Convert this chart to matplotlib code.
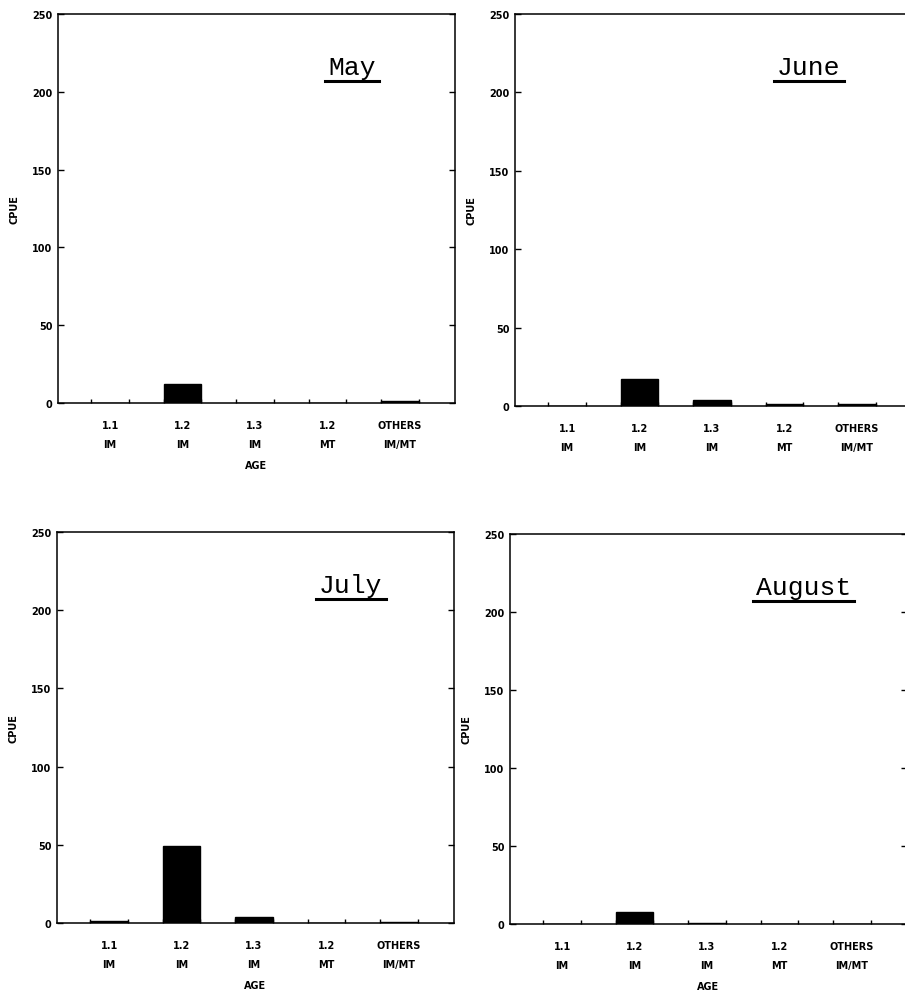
import matplotlib
matplotlib.use("Agg")
import matplotlib.pyplot as plt
from matplotlib.lines import Line2D
from matplotlib.transforms import IdentityTransform

# categories (age / maturity) and monthly CPUE values
AGES = ["1.1\nIM", "1.2\nIM", "1.3\nIM", "1.2\nMT", "OTHERS\nIM/MT"]
MONTHS = ["May", "June", "July", "August"]
MAY = [0, 12.5, 0, 0, 1.2]
JUNE = [0, 17, 4, 1, 1]
JULY = [1, 49, 4, 0, 0.7]
AUGUST = [0, 8, 0.8, 0, 0]
YTICKS = [0, 50, 100, 150, 200, 250]

W, H = 905, 995
PANEL_W = 397
BAR_W = 0.52

fig = plt.figure(figsize=(W / 100, H / 100), dpi=100)

# pixel boxes: left edge, top (250 line), bottom (0 line)
boxes = [(58, 15, 404), (515, 15, 407), (57, 533, 924), (510, 535, 925)]
show_age = [True, False, True, True]
tick_font = dict(family="DejaVu Sans", weight="bold", size=7)

titles = []
for month, vals, (left, top, bottom), age in zip(
        MONTHS, [MAY, JUNE, JULY, AUGUST], boxes, show_age):
    ax = fig.add_axes([left / W, 1 - bottom / H, PANEL_W / W, (bottom - top) / H])
    xs = list(range(len(AGES)))
    ax.bar(xs, vals, width=BAR_W, color="black", edgecolor="black", linewidth=1)
    ax.set_xlim(-0.72, 4.76)
    ax.set_ylim(0, 250)

    ax.set_yticks(YTICKS)
    ax.set_yticklabels([str(v) for v in YTICKS], **tick_font)
    ax.set_xticks(xs)
    ax.set_xticklabels(AGES, linespacing=2.2, **tick_font)
    edges = [x + s * BAR_W / 2 for x in xs for s in (-1, 1)]
    ax.set_xticks(edges, minor=True)
    ax.tick_params(axis="y", direction="in", length=4, width=1, right=True, pad=4)
    ax.tick_params(axis="x", which="major", length=0, pad=12)
    ax.tick_params(axis="x", which="minor", direction="in", length=3, width=1)

    for sp in ax.spines.values():
        sp.set_linewidth(1.1)

    ax.set_ylabel("CPUE", labelpad=9, **tick_font)
    if age:
        ax.set_xlabel("AGE", labelpad=8, **tick_font)

    t = ax.text(0.74, 0.847, month, transform=ax.transAxes, ha="center",
                va="baseline", family="Liberation Mono", size=19)
    titles.append((ax, t))

# underline the month titles
fig.canvas.draw()
r = fig.canvas.get_renderer()
for ax, t in titles:
    bb = t.get_window_extent(r)
    _, yb = ax.transAxes.transform((0, 0.847))
    fig.add_artist(Line2D([bb.x0 - 3, bb.x1 + 3], [yb - 7, yb - 7],
                          transform=IdentityTransform(), color="black", linewidth=2.2))

fig.savefig("out.png", dpi=100)
